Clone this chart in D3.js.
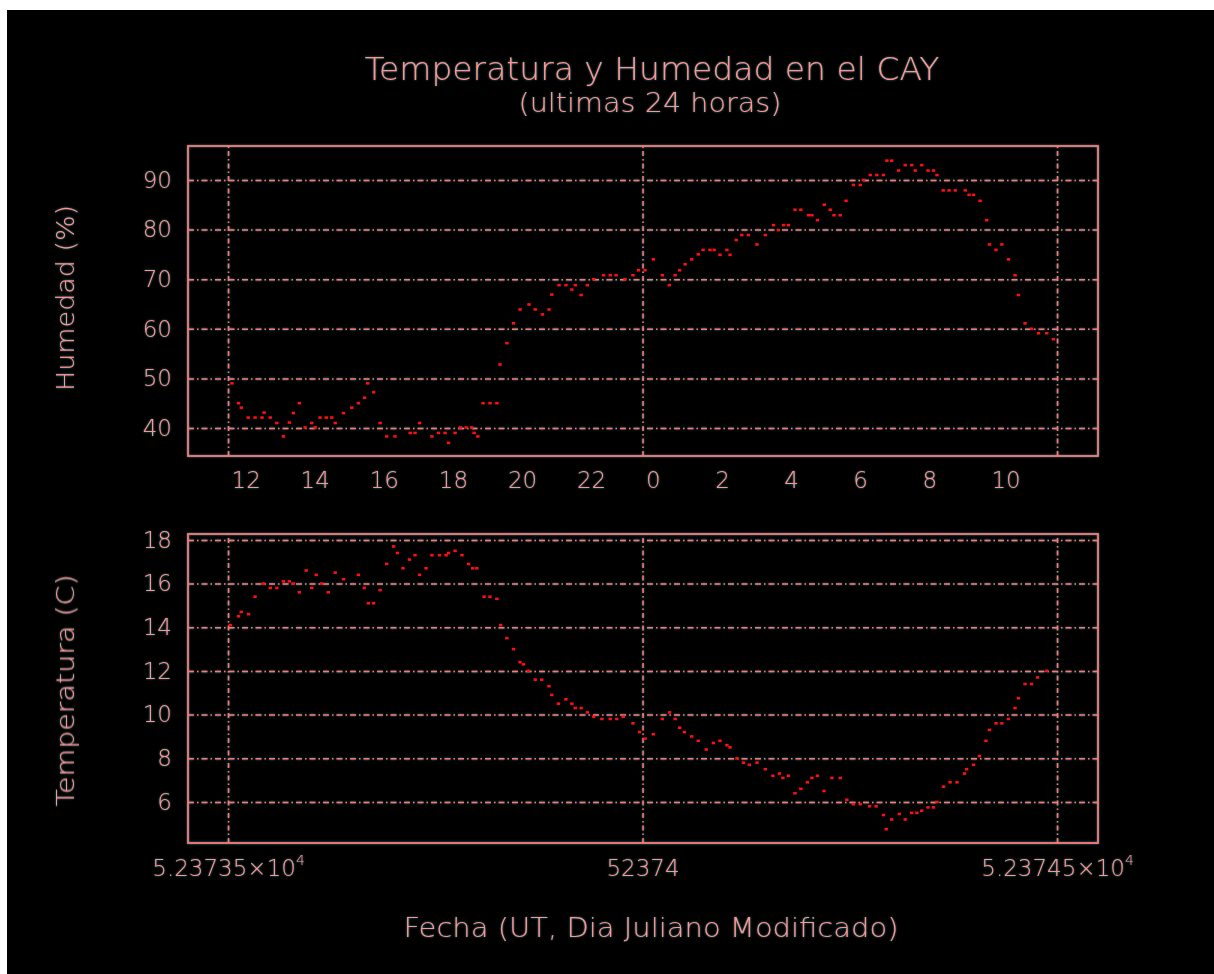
<!DOCTYPE html>
<html>
<head>
<meta charset="utf-8">
<script src="https://cdn.jsdelivr.net/npm/d3@7/dist/d3.min.js"></script>
<style>
  html, body { margin: 0; padding: 0; background: #fff; }
  svg { display: block; }
  text { font-family: "DejaVu Sans", "Liberation Sans", sans-serif; font-weight: 200; fill: #ff9494; }
</style>
</head>
<body>
<div id="chart"></div>
<script>
// horas desde las 12 UT del MJD 52373, y valor leido
const humedad = [
  [0.11, 49.0], [0.30, 45.0], [0.38, 44.1], [0.58, 42.1], [0.78, 42.1], [0.98, 42.1],
  [1.04, 43.1], [1.22, 42.1], [1.41, 41.0], [1.60, 38.3], [1.77, 41.1], [1.89, 43.0],
  [2.06, 45.0], [2.23, 40.1], [2.42, 41.0], [2.52, 40.1], [2.66, 42.1], [2.84, 42.1],
  [3.00, 42.1], [3.10, 41.0], [3.34, 43.0], [3.58, 44.1], [3.77, 45.0], [3.95, 46.1],
  [4.04, 49.0], [4.21, 47.2], [4.40, 41.0], [4.59, 38.3], [4.83, 38.3], [5.27, 39.0],
  [5.41, 39.0], [5.54, 41.0], [5.90, 38.3], [6.09, 39.0], [6.28, 39.0], [6.38, 37.0],
  [6.57, 39.0], [6.72, 40.1], [6.89, 40.1], [7.05, 40.1], [7.12, 39.0], [7.23, 38.3],
  [7.38, 45.0], [7.58, 45.0], [7.78, 45.0], [7.87, 52.8], [8.07, 57.1], [8.26, 61.1],
  [8.45, 63.9], [8.71, 64.9], [8.89, 63.9], [9.10, 62.9], [9.29, 63.9], [9.37, 66.9],
  [9.58, 68.8], [9.78, 68.8], [9.95, 67.9], [10.05, 68.8], [10.22, 66.8], [10.40, 68.8],
  [10.58, 70.0], [10.87, 70.8], [11.06, 70.8], [11.23, 70.8], [11.49, 70.0], [11.72, 70.8],
  [11.88, 71.8], [12.07, 71.8], [12.31, 74.0], [12.57, 70.8], [12.77, 68.8], [12.94, 70.8],
  [13.07, 71.8], [13.23, 73.0], [13.42, 74.0], [13.61, 75.0], [13.75, 75.9], [13.95, 75.9],
  [14.07, 75.9], [14.24, 74.9], [14.44, 75.9], [14.53, 74.9], [14.71, 77.9], [14.87, 78.9],
  [15.06, 78.9], [15.31, 77.0], [15.55, 78.9], [15.79, 80.9], [15.93, 79.9], [16.08, 80.9],
  [16.22, 80.9], [16.41, 84.0], [16.58, 84.0], [16.80, 82.9], [16.90, 82.9], [17.06, 81.9],
  [17.26, 85.0], [17.43, 84.0], [17.54, 82.9], [17.72, 82.9], [17.89, 85.8], [18.10, 89.0],
  [18.30, 89.0], [18.39, 90.0], [18.59, 91.0], [18.78, 91.0], [18.97, 91.0], [19.07, 93.9],
  [19.21, 93.9], [19.41, 91.9], [19.60, 93.0], [19.79, 93.0], [19.89, 91.9], [20.08, 93.0],
  [20.26, 91.9], [20.42, 91.9], [20.52, 91.0], [20.70, 87.9], [20.87, 87.9], [21.05, 87.9],
  [21.34, 87.9], [21.45, 87.0], [21.58, 87.0], [21.77, 85.8], [21.96, 81.9], [22.04, 77.0],
  [22.23, 75.9], [22.40, 77.0], [22.59, 74.0], [22.78, 70.8], [22.88, 66.8], [23.07, 61.1],
  [23.26, 60.0], [23.46, 59.1], [23.70, 59.1], [23.89, 57.9],
];

const temperatura = [
  [0.06, 14.1], [0.30, 14.5], [0.38, 14.7], [0.59, 14.6], [0.78, 15.4], [1.02, 16.0],
  [1.22, 15.8], [1.41, 15.8], [1.60, 16.1], [1.77, 16.1], [1.89, 16.0], [2.06, 15.6],
  [2.26, 16.6], [2.42, 15.8], [2.55, 16.4], [2.71, 16.0], [2.90, 15.6], [3.10, 16.5],
  [3.34, 16.2], [3.77, 16.4], [3.94, 15.8], [4.06, 15.1], [4.21, 15.1], [4.40, 15.7],
  [4.59, 16.9], [4.79, 17.7], [4.90, 17.4], [5.06, 16.7], [5.25, 17.1], [5.41, 17.3],
  [5.54, 16.4], [5.73, 16.7], [5.90, 17.3], [6.12, 17.3], [6.31, 17.3], [6.38, 17.4],
  [6.57, 17.5], [6.77, 17.3], [6.96, 16.9], [7.08, 16.7], [7.20, 16.7], [7.41, 15.4],
  [7.58, 15.4], [7.78, 15.3], [7.89, 14.1], [8.07, 13.5], [8.26, 13.0], [8.45, 12.4],
  [8.55, 12.3], [8.69, 12.0], [8.89, 11.6], [9.08, 11.6], [9.29, 11.3], [9.37, 10.9],
  [9.56, 10.5], [9.78, 10.7], [9.95, 10.5], [10.05, 10.3], [10.22, 10.3], [10.40, 10.1],
  [10.58, 9.9], [10.82, 9.8], [11.06, 9.8], [11.25, 9.8], [11.44, 9.9], [11.72, 9.6],
  [11.91, 9.2], [12.07, 8.9], [12.31, 9.1], [12.57, 9.8], [12.78, 10.1], [12.94, 9.8],
  [13.07, 9.4], [13.21, 9.2], [13.42, 9.0], [13.61, 8.8], [13.84, 8.4], [14.05, 8.7],
  [14.24, 8.8], [14.44, 8.6], [14.53, 8.5], [14.73, 8.0], [14.92, 7.8], [15.09, 7.7],
  [15.31, 7.8], [15.55, 7.5], [15.77, 7.2], [15.96, 7.3], [16.06, 7.1], [16.22, 7.2],
  [16.41, 6.4], [16.58, 6.6], [16.77, 6.9], [16.90, 7.1], [17.06, 7.2], [17.25, 6.5],
  [17.48, 7.1], [17.72, 7.1], [17.91, 6.1], [18.10, 5.9], [18.30, 5.9], [18.57, 5.8],
  [18.76, 5.8], [18.97, 5.4], [19.05, 4.75], [19.21, 5.2], [19.43, 5.45], [19.60, 5.2],
  [19.79, 5.5], [19.94, 5.5], [20.08, 5.6], [20.26, 5.75], [20.42, 5.75], [20.52, 6.0],
  [20.71, 6.7], [20.90, 6.9], [21.10, 6.9], [21.32, 7.3], [21.38, 7.5], [21.58, 7.7],
  [21.75, 8.1], [21.94, 8.8], [22.04, 9.3], [22.23, 9.6], [22.40, 9.6], [22.59, 9.8],
  [22.78, 10.3], [22.88, 10.75], [23.07, 11.4], [23.26, 11.4], [23.43, 11.7], [23.70, 12.0],
];

const MJD_INICIO = 52373.5; // 12 UT
const horaEtiquetas = [12, 14, 16, 18, 20, 22, 0, 2, 4, 6, 8, 10];
const humTicks = [40, 50, 60, 70, 80, 90];
const tempTicks = [6, 8, 10, 12, 14, 16, 18];
const mjdTicks = [52373.5, 52374, 52374.5];
const mjdEtiquetas = [["5.23735×10", "4"], ["52374", ""], ["5.23745×10", "4"]];

const LINE = "#ff7676";
const PUNTO = "#ff1010";

const svg = d3.select("#chart").append("svg").attr("width", 1214).attr("height", 974);

// halo cian suave alrededor de lineas y texto
const defs = svg.append("defs");
const f = defs.append("filter").attr("id", "halo")
  .attr("x", "-5%").attr("y", "-5%").attr("width", "110%").attr("height", "110%");
f.append("feGaussianBlur").attr("in", "SourceAlpha").attr("stdDeviation", 0.9).attr("result", "b");
f.append("feFlood").attr("flood-color", "#1f8c8c").attr("result", "c");
f.append("feComposite").attr("in", "c").attr("in2", "b").attr("operator", "in").attr("result", "h");
const fm = f.append("feMerge");
fm.append("feMergeNode").attr("in", "h");
fm.append("feMergeNode").attr("in", "SourceGraphic");

svg.append("rect").attr("x", 7).attr("y", 10).attr("width", 1207).attr("height", 964).attr("fill", "#000");

const x = d3.scaleLinear().domain([52373.4517, 52374.5494]).range([188, 1098]);
const hToMjd = (h) => MJD_INICIO + h / 24;

const panels = [
  { data: humedad, y: d3.scaleLinear().domain([34.35, 96.85]).range([456, 146]), ticks: humTicks, label: "Humedad (%)" },
  { data: temperatura, y: d3.scaleLinear().domain([4.12, 18.27]).range([843, 534]), ticks: tempTicks, label: "Temperatura (C)" },
];

const dashes = "6,3,1.5,3";

panels.forEach((p, i) => {
  const [y0, y1] = p.y.range();
  const g = svg.append("g").attr("filter", "url(#halo)");

  // rejilla horizontal + etiquetas
  const ay = g.append("g").attr("transform", "translate(188,0)")
    .call(d3.axisLeft(p.y).tickValues(p.ticks).tickSize(-910).tickPadding(16));
  ay.select(".domain").remove();
  ay.attr("font-family", null);
  ay.selectAll("line").attr("stroke", LINE).attr("stroke-width", 1.5).attr("stroke-dasharray", dashes);
  ay.selectAll("text").attr("font-size", 23).attr("fill", null);

  // rejilla vertical
  const ax = g.append("g").attr("transform", `translate(0,${y0})`)
    .call(d3.axisBottom(x).tickValues(mjdTicks).tickSize(-(y0 - y1)).tickFormat(""));
  ax.select(".domain").remove();
  ax.selectAll("line").attr("stroke", LINE).attr("stroke-width", 1.5).attr("stroke-dasharray", "5,3,1.5,3");

  // marco
  g.append("rect").attr("x", 188).attr("y", y1).attr("width", 910).attr("height", y0 - y1)
    .attr("fill", "none").attr("stroke", LINE).attr("stroke-width", 1.8);

  // titulo del eje y
  g.append("text")
    .attr("transform", `translate(74,${(y0 + y1) / 2 + (i === 0 ? -3 : 2)}) rotate(-90)`)
    .attr("text-anchor", "middle").attr("font-size", 25)
    .attr("textLength", i === 0 ? 186 : 232).attr("lengthAdjust", "spacingAndGlyphs")
    .text(p.label);

  // puntos
  svg.append("g").selectAll("rect").data(p.data).join("rect")
    .attr("x", (d) => x(hToMjd(d[0])) - 1.6)
    .attr("y", (d) => p.y(d[1]) - 1.3)
    .attr("width", 3.4).attr("height", 2.6)
    .attr("fill", PUNTO);
});

const gt = svg.append("g").attr("filter", "url(#halo)");

// horas arriba
const ah = gt.append("g").attr("transform", "translate(0,456)")
  .call(d3.axisBottom(x)
    .tickValues(horaEtiquetas.map((h, i) => MJD_INICIO + (2 * i) / 24))
    .tickSize(0).tickPadding(16)
    .tickFormat((d, i) => horaEtiquetas[i]));
ah.select(".domain").remove();
ah.attr("font-family", null);
ah.selectAll("text").attr("font-size", 23).attr("text-anchor", "start").attr("dx", 3).attr("fill", null);

// fecha MJD abajo
const am = gt.append("g").attr("transform", "translate(0,843)")
  .call(d3.axisBottom(x).tickValues(mjdTicks).tickSize(0).tickPadding(16).tickFormat(""));
am.select(".domain").remove();
am.attr("font-family", null);
am.selectAll(".tick").each(function (d, i) {
  const t = d3.select(this).append("text").attr("y", 33).attr("font-size", 23)
    .attr("text-anchor", "middle");
  t.append("tspan").text(mjdEtiquetas[i][0]);
  if (mjdEtiquetas[i][1]) {
    t.append("tspan").attr("dy", -11).attr("font-size", 14).text(mjdEtiquetas[i][1]);
  }
});

// titulos
gt.append("text").attr("x", 652).attr("y", 80).attr("text-anchor", "middle")
  .attr("font-size", 32).attr("textLength", 575).attr("lengthAdjust", "spacingAndGlyphs")
  .text("Temperatura y Humedad en el CAY");
gt.append("text").attr("x", 650).attr("y", 112).attr("text-anchor", "middle")
  .attr("font-size", 27).attr("textLength", 263).attr("lengthAdjust", "spacingAndGlyphs")
  .text("(ultimas 24 horas)");
gt.append("text").attr("x", 651).attr("y", 937).attr("text-anchor", "middle")
  .attr("font-size", 26).attr("textLength", 495).attr("lengthAdjust", "spacingAndGlyphs")
  .text("Fecha (UT, Dia Juliano Modificado)");
</script>
</body>
</html>
